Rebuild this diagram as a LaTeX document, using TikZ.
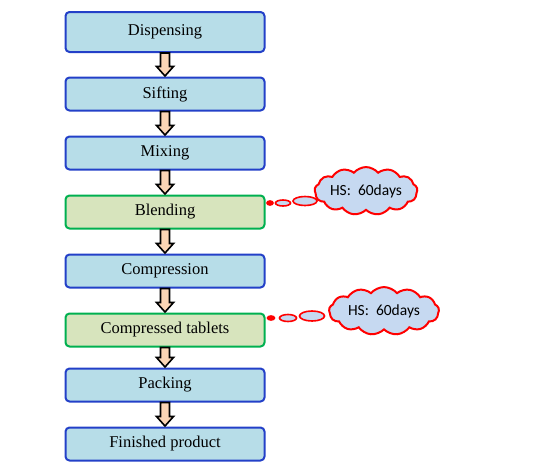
\documentclass[tikz,border=0pt]{standalone}
\usepackage{fontspec}
\setmainfont{Liberation Serif}
\newfontfamily\cloudfont{Carlito}
\usetikzlibrary{shapes.geometric,shapes.symbols,calc}
\definecolor{boxblue}{HTML}{B7DDE8}
\definecolor{edgeblue}{HTML}{2340C8}
\definecolor{boxgreen}{HTML}{D7E4BD}
\definecolor{edgegreen}{HTML}{00B050}
\definecolor{cloudblue}{HTML}{C6D9F1}
\definecolor{arrowpeach}{HTML}{FBD5B5}
\tikzset{
    stage/.style={draw=edgeblue,fill=boxblue,line width=2pt,rounded corners=4pt,
        minimum width=199pt,minimum height=33pt,inner sep=0pt,font=\fontsize{16.5}{18}\selectfont},
    holdstage/.style={stage,draw=edgegreen,fill=boxgreen},
    hscloud/.style={cloud,cloud puffs=13,cloud puff arc=100,aspect=2.7,draw=red,fill=cloudblue,
        line width=2pt,inner sep=0pt,font=\cloudfont\fontsize{15.5}{17}\selectfont},
    bubble/.style={ellipse,draw=red,fill=cloudblue,line width=1.6pt,inner sep=0pt},
    flowarr/.style={draw=black,fill=arrowpeach,line width=1.6pt,line join=miter}
}
% hollow block arrow from the bottom of one stage to the top of the next
\newcommand{\flowarrow}[2]{%
    \draw[flowarr] let \p1=(#1.south), \p2=(#2.north) in
        (\x1-4.5pt,\y1) -- (\x1+4.5pt,\y1) -- (\x1+4.5pt,\y2+10pt) -- (\x1+8.5pt,\y2+10pt)
        -- (\x1,\y2+0.5pt) -- (\x1-8.5pt,\y2+10pt) -- (\x1-4.5pt,\y2+10pt) -- cycle;}
\begin{document}
\begin{tikzpicture}[x=1pt,y=-1pt]
    \useasboundingbox (0,0) rectangle (534,466);

    % Process stages
    \node[stage,minimum height=40pt] (disp) at (165,32) {Dispensing};
    \node[stage] (sift) at (165,94) {Sifting};
    \node[stage] (mix) at (165,153) {Mixing};
    \node[holdstage] (blend) at (165,212) {Blending};
    \node[stage] (comp) at (165,271) {Compression};
    \node[holdstage] (tabs) at (165,330) {Compressed tablets};
    \node[stage] (pack) at (165,385) {Packing};
    \node[stage] (fin) at (165,444) {Finished product};

    % Arrows between stages
    \foreach \a/\b in {disp/sift,sift/mix,mix/blend,blend/comp,comp/tabs,tabs/pack,pack/fin}
        \flowarrow{\a}{\b};

    % Holding time callouts
    \node[hscloud,minimum width=96pt,minimum height=42pt] (cloudA) at (366,191) {HS:~~60days};
    \node[bubble,fill=red,minimum width=6pt,minimum height=4pt] (dotA) at (270,203) {};
    \node[bubble,minimum width=15pt,minimum height=6pt] (bubA) at (283,203) {};
    \node[bubble,minimum width=24pt,minimum height=9pt] (bigA) at (305,201) {};

    \node[hscloud,minimum width=110pt,minimum height=44pt] (cloudB) at (384,311) {HS:~~60days};
    \node[bubble,fill=red,minimum width=7pt,minimum height=4pt] (dotB) at (271,318) {};
    \node[bubble,minimum width=17pt,minimum height=7pt] (bubB) at (288,318) {};
    \node[bubble,minimum width=25pt,minimum height=10pt] (bigB) at (312,316) {};
\end{tikzpicture}
\end{document}
